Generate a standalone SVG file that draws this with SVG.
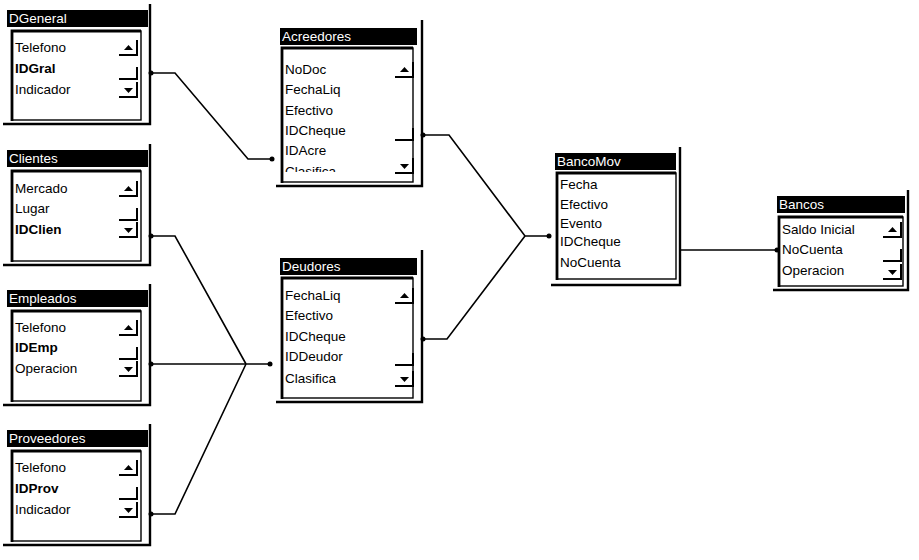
<svg xmlns="http://www.w3.org/2000/svg" xmlns:xlink="http://www.w3.org/1999/xlink" width="919" height="560" viewBox="0 0 919 560">
  <style>
    .title { fill: #000; }
    .ttext { fill: #fff; font-family: "Liberation Sans", Arial, sans-serif; font-size: 13.5px; }
    .field { fill: #000; font-family: "Liberation Sans", Arial, sans-serif; font-size: 13.5px; }
    .key { font-weight: bold; }
    .frame { fill: none; stroke: #000; stroke-width: 2.4; }
    .list { fill: #fff; stroke: #000; stroke-width: 1.4; }
    .listl { fill: none; stroke: #000; stroke-width: 2.8; }
    .edge { fill: none; stroke: #000; stroke-width: 2; }
    .conn { fill: none; stroke: #000; stroke-width: 1.6; }
    .dot { fill: #000; }
  </style>
  <defs>
    <!-- scroll bar pieces -->
    <g id="btn-up">
      <path class="edge" d="M0,15 H18 V0"/>
      <path d="M5,10 L9.5,5 L14,10 Z" fill="#000"/>
    </g>
    <g id="btn-down">
      <path class="edge" d="M0,15 H18 V0"/>
      <path d="M5,6 L9.5,11 L14,6 Z" fill="#000"/>
    </g>
    <g id="thumb">
      <path class="edge" d="M0,12 H18 V0"/>
    </g>
    <clipPath id="clip-acre">
      <rect x="282" y="48" width="131" height="124"/>
    </clipPath>
  </defs>

  <rect width="919" height="560" fill="#fff"/>

  <!-- relationship lines -->
  <g id="connectors">
    <path class="conn" d="M150,73 H175 L248,159 H272"/>
    <path class="conn" d="M150,236 H175 L246,364"/>
    <path class="conn" d="M150,364 H270"/>
    <path class="conn" d="M150,514 H175 L246,364"/>
    <path class="conn" d="M422,135 H449 L525,236 H549"/>
    <path class="conn" d="M422,339 H447 L525,236"/>
    <path class="conn" d="M680,250 H777"/>
    <circle class="dot" cx="151" cy="73" r="2.5"/>
    <circle class="dot" cx="272" cy="159" r="2.5"/>
    <circle class="dot" cx="151" cy="236" r="2.5"/>
    <circle class="dot" cx="151" cy="364" r="2.5"/>
    <circle class="dot" cx="270" cy="364" r="2.5"/>
    <circle class="dot" cx="151" cy="514" r="2.5"/>
    <circle class="dot" cx="423" cy="135" r="2.5"/>
    <circle class="dot" cx="549" cy="236" r="2.5"/>
    <circle class="dot" cx="423" cy="339" r="2.5"/>
    <circle class="dot" cx="777" cy="250" r="2.5"/>
  </g>

  <!-- DGeneral -->
  <g id="dgeneral">
    <rect class="title" x="7" y="10" width="141" height="17"/>
    <text class="ttext" x="9" y="23">DGeneral</text>
    <path class="frame" d="M150,4 V124 H3"/>
    <rect class="list" x="12" y="31" width="129" height="89"/>
    <path class="listl" d="M12,121 V31 H141"/>
    <text class="field" x="15" y="52">Telefono</text>
    <text class="field key" x="15" y="73">IDGral</text>
    <text class="field" x="15" y="94">Indicador</text>
    <use xlink:href="#btn-up" x="119" y="40"/>
    <use xlink:href="#thumb" x="119" y="67"/>
    <use xlink:href="#btn-down" x="119" y="82"/>
  </g>

  <!-- Clientes -->
  <g id="clientes">
    <rect class="title" x="7" y="150" width="141" height="17"/>
    <text class="ttext" x="9" y="163">Clientes</text>
    <path class="frame" d="M150,144 V265 H3"/>
    <rect class="list" x="12" y="171" width="129" height="90"/>
    <path class="listl" d="M12,262 V171 H141"/>
    <text class="field" x="15" y="193">Mercado</text>
    <text class="field" x="15" y="213">Lugar</text>
    <text class="field key" x="15" y="234">IDClien</text>
    <use xlink:href="#btn-up" x="119" y="181"/>
    <use xlink:href="#thumb" x="119" y="208"/>
    <use xlink:href="#btn-down" x="119" y="222"/>
  </g>

  <!-- Empleados -->
  <g id="empleados">
    <rect class="title" x="7" y="290" width="141" height="17"/>
    <text class="ttext" x="9" y="303">Empleados</text>
    <path class="frame" d="M150,284 V405 H3"/>
    <rect class="list" x="12" y="311" width="129" height="90"/>
    <path class="listl" d="M12,402 V311 H141"/>
    <text class="field" x="15" y="332">Telefono</text>
    <text class="field key" x="15" y="352">IDEmp</text>
    <text class="field" x="15" y="373">Operacion</text>
    <use xlink:href="#btn-up" x="119" y="320"/>
    <use xlink:href="#thumb" x="119" y="347"/>
    <use xlink:href="#btn-down" x="119" y="361"/>
  </g>

  <!-- Proveedores -->
  <g id="proveedores">
    <rect class="title" x="7" y="430" width="141" height="17"/>
    <text class="ttext" x="9" y="443">Proveedores</text>
    <path class="frame" d="M150,424 V545 H3"/>
    <rect class="list" x="12" y="451" width="129" height="90"/>
    <path class="listl" d="M12,542 V451 H141"/>
    <text class="field" x="15" y="472">Telefono</text>
    <text class="field key" x="15" y="493">IDProv</text>
    <text class="field" x="15" y="514">Indicador</text>
    <use xlink:href="#btn-up" x="119" y="460"/>
    <use xlink:href="#thumb" x="119" y="487"/>
    <use xlink:href="#btn-down" x="119" y="502"/>
  </g>

  <!-- Acreedores -->
  <g id="acreedores">
    <rect class="title" x="280" y="28" width="137" height="17"/>
    <text class="ttext" x="282" y="41">Acreedores</text>
    <path class="frame" d="M422,20 V186 H276"/>
    <rect class="list" x="282" y="48" width="131" height="134"/>
    <path class="listl" d="M282,183 V48 H413"/>
    <g clip-path="url(#clip-acre)">
      <text class="field" x="285" y="74">NoDoc</text>
      <text class="field" x="285" y="94">FechaLiq</text>
      <text class="field" x="285" y="115">Efectivo</text>
      <text class="field" x="285" y="135">IDCheque</text>
      <text class="field" x="285" y="155">IDAcre</text>
      <text class="field" x="285" y="176">Clasifica</text>
    </g>
    <use xlink:href="#btn-up" x="395" y="62"/>
    <use xlink:href="#thumb" x="395" y="128"/>
    <use xlink:href="#btn-down" x="395" y="158"/>
  </g>

  <!-- Deudores -->
  <g id="deudores">
    <rect class="title" x="280" y="258" width="137" height="17"/>
    <text class="ttext" x="282" y="271">Deudores</text>
    <path class="frame" d="M422,250 V402 H276"/>
    <rect class="list" x="282" y="278" width="131" height="120"/>
    <path class="listl" d="M282,399 V278 H413"/>
    <text class="field" x="285" y="300">FechaLiq</text>
    <text class="field" x="285" y="320">Efectivo</text>
    <text class="field" x="285" y="341">IDCheque</text>
    <text class="field" x="285" y="361">IDDeudor</text>
    <text class="field" x="285" y="383">Clasifica</text>
    <use xlink:href="#btn-up" x="395" y="288"/>
    <use xlink:href="#thumb" x="395" y="353"/>
    <use xlink:href="#btn-down" x="395" y="371"/>
  </g>

  <!-- BancoMov -->
  <g id="bancomov">
    <rect class="title" x="555" y="153" width="121" height="17"/>
    <text class="ttext" x="557" y="166">BancoMov</text>
    <path class="frame" d="M680,147 V285 H551"/>
    <rect class="list" x="557" y="173" width="119" height="106"/>
    <path class="listl" d="M557,280 V173 H676"/>
    <text class="field" x="560" y="189">Fecha</text>
    <text class="field" x="560" y="209">Efectivo</text>
    <text class="field" x="560" y="228">Evento</text>
    <text class="field" x="560" y="246">IDCheque</text>
    <text class="field" x="560" y="267">NoCuenta</text>
  </g>

  <!-- Bancos -->
  <g id="bancos">
    <rect class="title" x="777" y="196" width="128" height="17"/>
    <text class="ttext" x="779" y="209">Bancos</text>
    <path class="frame" d="M908,190 V290 H773"/>
    <rect class="list" x="779" y="217" width="124" height="69"/>
    <path class="listl" d="M779,287 V217 H903"/>
    <text class="field" x="782" y="234">Saldo Inicial</text>
    <text class="field" x="782" y="254">NoCuenta</text>
    <text class="field" x="782" y="275">Operacion</text>
    <use xlink:href="#btn-up" x="883" y="222"/>
    <use xlink:href="#thumb" x="883" y="249"/>
    <use xlink:href="#btn-down" x="883" y="264"/>
  </g>
</svg>
